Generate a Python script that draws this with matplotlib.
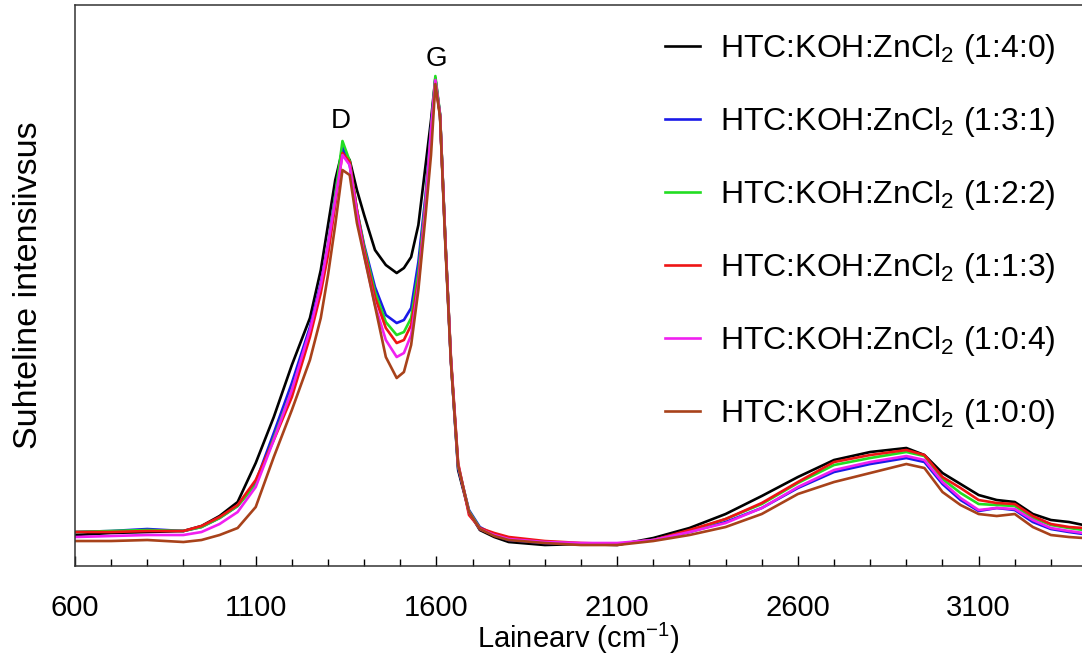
import matplotlib
matplotlib.use("Agg")
import matplotlib.pyplot as plt

plt.rcParams["font.family"] = ["Liberation Sans", "DejaVu Sans"]
plt.rcParams["mathtext.fontset"] = "custom"
plt.rcParams["mathtext.rm"] = "Liberation Sans"

# Raman shift (cm-1)
wavenumber = [600, 700, 800, 900, 950, 1000, 1050, 1100, 1150, 1200,
              1250, 1280, 1300, 1320, 1340, 1360, 1380, 1400, 1430, 1460,
              1490, 1510, 1530, 1550, 1570, 1585, 1597, 1610, 1625, 1640,
              1660, 1690, 1720, 1760, 1800, 1900, 2000, 2100, 2200, 2300,
              2400, 2500, 2600, 2700, 2800, 2900, 2950, 3000, 3050, 3100,
              3150, 3200, 3250, 3300, 3350, 3390]

# relative intensities
i_140 = [31, 33, 34, 35, 40, 50, 64, 103, 149, 201,
         248, 296, 341, 386, 416, 406, 376, 351, 316, 301,
         293, 298, 309, 341, 401, 446, 488, 451, 323, 206,
         96, 54, 36, 29, 24, 21, 22, 21, 28, 38,
         52, 70, 89, 106, 114, 118, 111, 93, 82, 71,
         66, 64, 52, 46, 44, 41]
i_131 = [34, 35, 37, 35, 39, 48, 60, 84, 133, 183,
         239, 283, 321, 371, 419, 401, 356, 321, 279, 251,
         243, 246, 258, 304, 371, 438, 487, 451, 321, 206,
         98, 56, 39, 31, 26, 23, 22, 22, 26, 34,
         44, 58, 78, 94, 102, 108, 104, 82, 66, 55,
         58, 56, 44, 37, 34, 32]
i_122 = [34, 35, 36, 35, 39, 48, 60, 81, 128, 176,
         233, 278, 318, 370, 425, 405, 356, 319, 274, 244,
         231, 234, 248, 294, 366, 436, 490, 452, 322, 207,
         100, 55, 38, 31, 27, 24, 22, 22, 26, 35,
         47, 62, 83, 101, 108, 114, 110, 87, 73, 62,
         61, 60, 48, 41, 38, 36]
i_113 = [34, 34, 35, 35, 40, 49, 61, 86, 126, 169,
         229, 273, 311, 361, 413, 404, 356, 316, 269, 238,
         223, 226, 241, 286, 361, 431, 484, 450, 322, 209,
         103, 51, 38, 33, 29, 25, 23, 22, 26, 36,
         47, 63, 84, 104, 111, 116, 111, 89, 78, 66,
         63, 62, 50, 42, 39, 38]
i_104 = [29, 30, 31, 31, 34, 42, 54, 79, 126, 176,
         236, 281, 321, 366, 411, 401, 353, 311, 261, 226,
         209, 213, 231, 281, 361, 436, 486, 451, 321, 206,
         101, 54, 37, 31, 27, 24, 23, 23, 26, 34,
         43, 58, 79, 96, 104, 110, 106, 84, 68, 56,
         58, 57, 46, 38, 35, 33]
i_100 = [25, 25, 26, 24, 26, 31, 38, 59, 109, 156,
         206, 248, 291, 341, 396, 391, 343, 310, 260, 209,
         188, 194, 221, 276, 351, 411, 482, 449, 318, 204,
         101, 54, 37, 30, 26, 23, 21, 21, 25, 31,
         39, 52, 72, 84, 93, 102, 98, 74, 61, 52,
         50, 52, 39, 31, 29, 28]

ratios = ["1:4:0", "1:3:1", "1:2:2", "1:1:3", "1:0:4", "1:0:0"]
spectra = [i_140, i_131, i_122, i_113, i_104, i_100]
colors = ["#000000", "#1a1ae8", "#22dd22", "#ee1515", "#f020f0", "#a8421a"]

major_ticks = [600, 1100, 1600, 2100, 2600, 3100]
minor_ticks = [700, 800, 900, 1000, 1200, 1300, 1400, 1500, 1700, 1800, 1900, 2000,
               2200, 2300, 2400, 2500, 2700, 2800, 2900, 3000, 3200, 3300]

fig = plt.figure(figsize=(10.82, 6.61), dpi=100)
ax = fig.add_axes([0.0693, 0.1437, 0.9307, 0.8487])

for ratio, ys, c in zip(ratios, spectra, colors):
    ax.plot(wavenumber, ys, color=c, lw=1.9,
            label=r"HTC:KOH:ZnCl$_\mathregular{2}$ (" + ratio + ")")

ax.set_xlim(600, 3386)
ax.set_ylim(0, 561)
ax.set_xticks(major_ticks)
ax.set_xticks(minor_ticks, minor=True)
ax.tick_params(axis="x", which="major", direction="in", length=7, width=1, labelsize=21, pad=20)
ax.tick_params(axis="x", which="minor", direction="in", length=5, width=1)
ax.set_yticks([])
ax.spines["right"].set_visible(False)
for s in ["left", "bottom", "top"]:
    ax.spines[s].set_linewidth(1.1)
    ax.spines[s].set_color("#333333")

ax.set_xlabel("Lainearv (cm$^\mathregular{-1}$)", fontsize=21, labelpad=-1)
ax.set_ylabel("Suhteline intensiivsus", fontsize=24.5, labelpad=22)

ax.text(1335, 432, "D", fontsize=20, ha="center", va="bottom")
ax.text(1600, 494, "G", fontsize=20, ha="center", va="bottom")

ax.legend(loc="upper left", bbox_to_anchor=(0.586, 0.952), frameon=False,
          fontsize=23, handlelength=1.1, handletextpad=0.62,
          labelspacing=1.22, borderpad=0, borderaxespad=0)

fig.savefig("out.png", dpi=100)
